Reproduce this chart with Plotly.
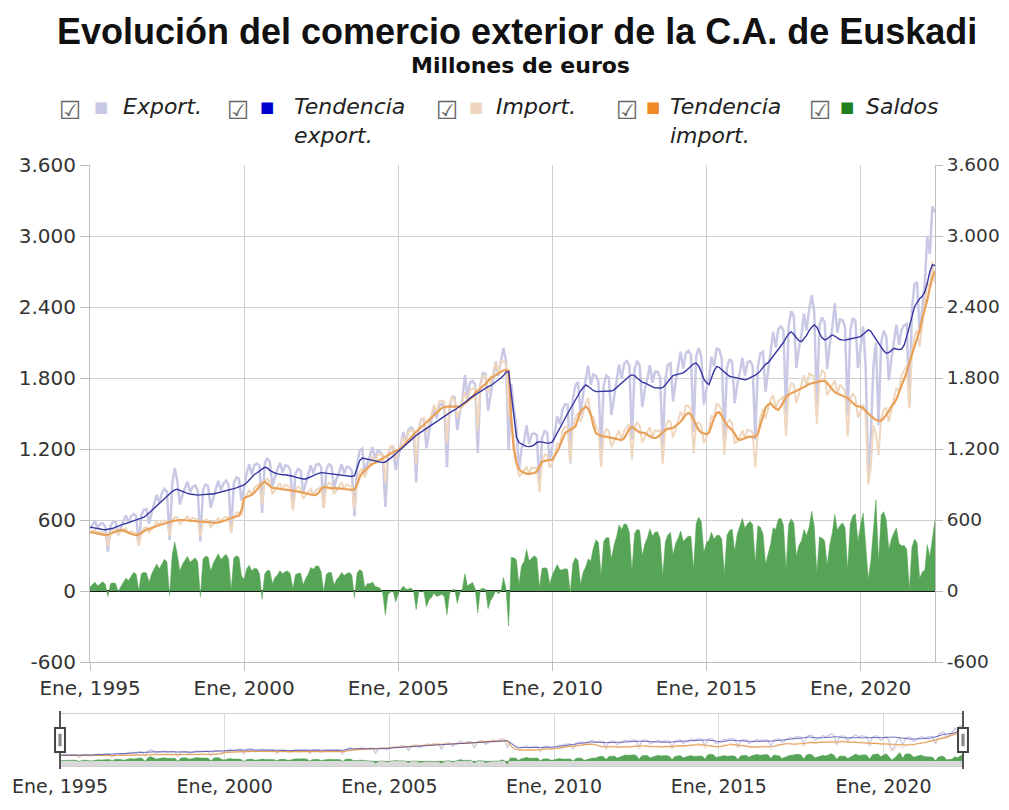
import pandas as pd
import plotly.graph_objects as go

# ---------------- DATA (millones de euros, mensual Ene 1995 - Jun 2022) ----------------
start_month = "1995-01-01"

export_raw = [
    524, 562, 594, 528, 567, 572, 544, 333, 551, 583, 583, 473,          # 1995
    541, 593, 638, 578, 632, 651, 630, 387, 643, 688, 691, 568,          # 1996
    664, 740, 812, 745, 826, 864, 840, 430, 900, 1040, 929, 731,         # 1997
    815, 874, 924, 836, 880, 893, 850, 417, 856, 900, 885, 705,          # 1998
    795, 866, 930, 852, 907, 933, 898, 500, 908, 960, 950, 765,          # 1999
    869, 1000, 1070, 984, 1064, 1077, 1060, 660, 1076, 1123, 1091, 884,  # 2000
    967, 1020, 1084, 1003, 1061, 1058, 1024, 700, 991, 1031, 1017, 833,  # 2001
    919, 984, 1062, 995, 1064, 1075, 1050, 700, 1025, 1071, 1059, 867,   # 2002
    951, 1007, 1073, 992, 1048, 1045, 1016, 630, 1061, 1188, 1203, 986,  # 2003
    1082, 1143, 1216, 1122, 1183, 1177, 1139, 710, 1138, 1215, 1220, 1021,   # 2004
    1145, 1236, 1342, 1265, 1361, 1382, 1365, 920, 1370, 1453, 1453, 1206,   # 2005
    1343, 1442, 1557, 1459, 1566, 1582, 1554, 1047, 1555, 1642, 1637, 1360,  # 2006
    1513, 1622, 1826, 1642, 1760, 1777, 1743, 1166, 1741, 1841, 1835, 1520,  # 2007
    1683, 1803, 1940, 1816, 1944, 2054, 1943, 1192, 1750, 1540, 1389, 1023,  # 2008
    1203, 1267, 1400, 1244, 1323, 1334, 1318, 870, 1296, 1352, 1338, 1100,   # 2009
    1222, 1339, 1474, 1408, 1534, 1577, 1575, 1078, 1622, 1739, 1766, 1487,  # 2010
    1668, 1793, 1903, 1744, 1831, 1820, 1769, 1180, 1736, 1820, 1803, 1487,  # 2011
    1649, 1772, 1915, 1795, 1922, 1944, 1906, 1278, 1875, 1944, 1905, 1553,  # 2012
    1705, 1797, 1909, 1760, 1855, 1853, 1801, 1204, 1792, 1912, 1926, 1602,  # 2013
    1771, 1887, 2022, 1880, 2009, 2030, 1995, 1344, 1985, 2052, 1980, 1575,  # 2014
    1707, 1797, 1980, 1897, 2048, 2041, 1964, 1295, 1885, 1960, 1937, 1588,  # 2015
    1746, 1849, 1969, 1821, 1933, 1944, 1901, 1278, 1895, 2009, 2022, 1685,  # 2016
    1872, 2019, 2189, 2060, 2214, 2236, 2205, 1498, 2240, 2365, 2322, 1883,  # 2017
    2052, 2170, 2343, 2203, 2376, 2500, 2360, 1561, 2245, 2311, 2271, 1874,  # 2018
    2086, 2229, 2430, 2183, 2295, 2292, 2226, 1488, 2194, 2306, 2286, 1883,  # 2019
    2086, 2235, 1900, 1000, 1300, 1900, 2100, 1400, 2100, 2200, 2150, 1780,  # 2020
    1969, 2113, 2250, 2081, 2209, 2246, 2258, 1561, 2390, 2592, 2611, 2174,  # 2021
    2415, 2606, 3000, 2850, 3250, 3200,                                      # 2022
]

export_trend = [
    540, 535, 530, 528, 525, 520, 518, 520, 525, 530, 540, 550,
    558, 565, 570, 578, 585, 592, 600, 605, 612, 625, 640, 660,
    685, 705, 725, 745, 765, 785, 800, 820, 840, 855, 860, 850,
    840, 832, 825, 820, 815, 812, 810, 812, 815, 818, 820, 820,
    820, 825, 830, 835, 840, 848, 855, 860, 865, 872, 880, 890,
    896, 915, 940, 965, 985, 997, 1010, 1030, 1045, 1040, 1020, 1005,
    997, 990, 985, 983, 982, 980, 975, 970, 962, 955, 950, 947,
    947, 955, 965, 975, 985, 995, 1000, 998, 995, 992, 990, 985,
    980, 978, 975, 973, 970, 968, 968, 975, 1030, 1100, 1124, 1120,
    1115, 1110, 1105, 1100, 1095, 1090, 1085, 1090, 1105, 1125, 1140, 1160,
    1180, 1200, 1220, 1240, 1260, 1280, 1300, 1315, 1330, 1345, 1358, 1370,
    1385, 1400, 1415, 1430, 1450, 1465, 1480, 1495, 1510, 1520, 1530, 1545,
    1560, 1575, 1590, 1610, 1630, 1645, 1660, 1675, 1690, 1705, 1715, 1727,
    1735, 1750, 1765, 1780, 1800, 1820, 1850, 1855, 1650, 1450, 1300, 1255,
    1240, 1230, 1222, 1220, 1225, 1235, 1255, 1262, 1258, 1252, 1250, 1251,
    1260, 1300, 1340, 1380, 1420, 1460, 1500, 1540, 1575, 1610, 1650, 1690,
    1720, 1741, 1730, 1710, 1695, 1685, 1685, 1685, 1685, 1685, 1685, 1690,
    1700, 1720, 1741, 1760, 1780, 1800, 1815, 1826, 1820, 1800, 1780, 1765,
    1758, 1745, 1735, 1725, 1718, 1716, 1715, 1720, 1740, 1770, 1800, 1820,
    1826, 1832, 1838, 1843, 1860, 1880, 1900, 1920, 1927, 1900, 1850, 1790,
    1760, 1745, 1800, 1860, 1896, 1890, 1870, 1850, 1830, 1815, 1810, 1805,
    1800, 1795, 1790, 1785, 1790, 1800, 1810, 1825, 1840, 1860, 1890, 1915,
    1930, 1960, 1990, 2020, 2050, 2070, 2100, 2140, 2175, 2190, 2170, 2140,
    2115, 2107, 2130, 2160, 2200, 2230, 2248, 2230, 2180, 2140, 2122, 2130,
    2150, 2164, 2155, 2140, 2125, 2122, 2120, 2125, 2130, 2135, 2136, 2140,
    2150, 2170, 2190, 2206, 2195, 2160, 2120, 2094, 2060, 2030, 2010, 2015,
    2030, 2051, 2045, 2040, 2045, 2080, 2150, 2230, 2320, 2400, 2440, 2470,
    2490, 2530, 2600, 2700, 2756, 2750,
]

import_raw = [
    490, 505, 519, 485, 504, 494, 487, 380, 487, 515, 520, 479,
    505, 520, 530, 490, 504, 494, 487, 382, 495, 530, 539, 494,
    519, 551, 583, 558, 593, 595, 594, 466, 596, 625, 622, 564,
    588, 610, 631, 592, 620, 612, 604, 466, 586, 606, 598, 539,
    561, 587, 615, 585, 620, 622, 626, 492, 628, 662, 664, 639,
    770, 811, 853, 812, 872, 889, 912, 728, 933, 950, 920, 820,
    853, 882, 912, 858, 899, 888, 878, 680, 853, 882, 868, 780,
    811, 838, 864, 811, 853, 863, 886, 704, 884, 914, 903, 818,
    853, 885, 917, 862, 901, 889, 880, 688, 909, 1008, 1037, 959,
    1019, 1081, 1140, 1082, 1150, 1154, 1159, 912, 1167, 1224, 1222, 1114,
    1168, 1229, 1299, 1250, 1344, 1356, 1365, 1076, 1379, 1454, 1461, 1340,
    1416, 1494, 1574, 1505, 1601, 1609, 1602, 1248, 1576, 1636, 1620, 1465,
    1527, 1601, 1680, 1600, 1701, 1706, 1723, 1352, 1727, 1817, 1820, 1669,
    1764, 1847, 1935, 1840, 1948, 1940, 1924, 1488, 1465, 1260, 1125, 968,
    990, 1017, 1049, 990, 1045, 1037, 1040, 840, 1104, 1155, 1149, 1041,
    1085, 1163, 1251, 1230, 1355, 1388, 1391, 1088, 1389, 1458, 1508, 1429,
    1509, 1589, 1632, 1490, 1470, 1386, 1360, 1048, 1318, 1369, 1352, 1217,
    1264, 1311, 1357, 1276, 1355, 1383, 1411, 1111, 1389, 1423, 1394, 1255,
    1308, 1346, 1383, 1295, 1358, 1352, 1360, 1076, 1375, 1439, 1430, 1297,
    1367, 1438, 1516, 1460, 1565, 1565, 1535, 1160, 1414, 1428, 1394, 1250,
    1299, 1367, 1484, 1460, 1580, 1570, 1524, 1152, 1414, 1449, 1414, 1250,
    1264, 1302, 1357, 1290, 1365, 1356, 1339, 1044, 1343, 1470, 1539, 1457,
    1544, 1618, 1654, 1540, 1607, 1622, 1648, 1312, 1677, 1755, 1747, 1589,
    1665, 1744, 1823, 1735, 1838, 1826, 1813, 1412, 1788, 1864, 1846, 1654,
    1695, 1734, 1781, 1670, 1743, 1716, 1691, 1304, 1626, 1670, 1633, 1466,
    1527, 1576, 1500, 900, 1050, 1400, 1330, 1150, 1460, 1530, 1550, 1430,
    1529, 1618, 1717, 1680, 1827, 1862, 1906, 1544, 2020, 2153, 2205, 2068,
    2254, 2428, 2608, 2560, 2783, 2600,
]

import_trend = [
    500, 495, 490, 485, 480, 475, 473, 475, 482, 490, 500, 510,
    515, 510, 500, 490, 480, 475, 473, 478, 490, 505, 518, 525,
    530, 540, 550, 558, 565, 572, 577, 583, 590, 595, 598, 600,
    600, 598, 595, 592, 590, 588, 586, 583, 580, 577, 575, 573,
    572, 575, 580, 585, 590, 598, 608, 615, 622, 630, 638, 680,
    786, 795, 805, 812, 830, 855, 885, 910, 924, 905, 885, 872,
    870, 865, 860, 858, 856, 854, 852, 850, 845, 840, 835, 830,
    828, 822, 815, 811, 812, 830, 860, 880, 875, 870, 868, 870,
    870, 868, 865, 862, 858, 855, 854, 860, 900, 960, 997, 1020,
    1040, 1060, 1075, 1082, 1095, 1110, 1125, 1140, 1155, 1166, 1175, 1185,
    1192, 1205, 1225, 1250, 1280, 1304, 1325, 1345, 1365, 1385, 1405, 1425,
    1445, 1465, 1485, 1505, 1525, 1547, 1555, 1560, 1560, 1558, 1558, 1558,
    1558, 1570, 1585, 1600, 1620, 1640, 1673, 1690, 1710, 1730, 1750, 1775,
    1800, 1811, 1825, 1840, 1855, 1865, 1868, 1860, 1450, 1200, 1082, 1030,
    1010, 997, 990, 990, 995, 997, 1010, 1050, 1093, 1100, 1105, 1107,
    1107, 1140, 1180, 1230, 1290, 1335, 1350, 1360, 1375, 1389, 1450, 1520,
    1540, 1558, 1540, 1490, 1400, 1333, 1320, 1310, 1305, 1304, 1300, 1295,
    1290, 1285, 1280, 1276, 1290, 1330, 1370, 1389, 1375, 1355, 1340, 1335,
    1335, 1320, 1305, 1295, 1293, 1300, 1320, 1345, 1361, 1370, 1375, 1380,
    1395, 1410, 1430, 1460, 1490, 1505, 1490, 1450, 1400, 1360, 1340, 1330,
    1325, 1340, 1400, 1460, 1505, 1510, 1480, 1440, 1400, 1380, 1360, 1330,
    1290, 1276, 1280, 1290, 1300, 1304, 1300, 1305, 1330, 1400, 1480, 1550,
    1575, 1586, 1560, 1540, 1530, 1560, 1600, 1640, 1660, 1671, 1680, 1690,
    1699, 1710, 1720, 1735, 1750, 1756, 1760, 1765, 1770, 1775, 1775, 1760,
    1730, 1700, 1680, 1670, 1660, 1650, 1642, 1630, 1610, 1590, 1570, 1560,
    1558, 1545, 1520, 1500, 1480, 1460, 1445, 1440, 1440, 1460, 1490, 1520,
    1560, 1586, 1620, 1680, 1740, 1790, 1850, 1930, 2000, 2050, 2120, 2200,
    2300, 2380, 2460, 2560, 2650, 2700,
]

tick_years = [1995, 2000, 2005, 2010, 2015, 2020]
tick_labels = ["Ene, 1995", "Ene, 2000", "Ene, 2005", "Ene, 2010", "Ene, 2015", "Ene, 2020"]
y_ticks = [-600, 0, 600, 1200, 1800, 2400, 3000, 3600]
y_tick_labels = ["-600", "0", "600", "1.200", "1.800", "2.400", "3.000", "3.600"]

legend_names = ["Export.", "Tendencia<br>export.", "Import.", "Tendencia<br>import.", "Saldos"]

# ---------------- derived ----------------
months = pd.date_range(start_month, periods=len(export_raw), freq="MS")
saldo = [e - i for e, i in zip(export_raw, import_raw)]
tick_dates = [f"{y}-01-01" for y in tick_years]

# ---------------- layout helpers ----------------
# The page body has an 8px margin, so the figure is made 16px smaller than the
# window and reference pixel positions are shifted by that margin.
PAGE_W, PAGE_H, BODY = 1009, 810, 8
W, H = PAGE_W - 2 * BODY, PAGE_H - 2 * BODY
def px(x):
    return (x - BODY) / W
def py(y):
    return 1 - (y - BODY) / H

C_EXP = "#C9C9E6"
C_EXP_T = "#34349F"
C_IMP = "#EFD6BE"
C_IMP_T = "#E9A15A"
C_SAL = "#56A456"
FONT = "DejaVu Sans"

fig = go.Figure()

def add_series(xa, ya, scale):
    fig.add_trace(go.Scatter(x=months, y=saldo, mode="lines", fill="tozeroy",
                             fillcolor=C_SAL, line=dict(color=C_SAL, width=0.5),
                             xaxis=xa, yaxis=ya, hoverinfo="skip"))
    fig.add_trace(go.Scatter(x=months, y=export_raw, mode="lines",
                             line=dict(color=C_EXP, width=2.5 * scale),
                             xaxis=xa, yaxis=ya))
    fig.add_trace(go.Scatter(x=months, y=import_raw, mode="lines",
                             line=dict(color=C_IMP, width=2.0 * scale),
                             xaxis=xa, yaxis=ya))
    fig.add_trace(go.Scatter(x=months, y=import_trend, mode="lines",
                             line=dict(color=C_IMP_T, width=2.2 * scale),
                             xaxis=xa, yaxis=ya))
    fig.add_trace(go.Scatter(x=months, y=export_trend, mode="lines",
                             line=dict(color=C_EXP_T, width=1.4 * scale),
                             xaxis=xa, yaxis=ya))

add_series("x", "y", 1.0)
# invisible trace to carry the right-hand axis
fig.add_trace(go.Scatter(x=months, y=export_trend, mode="lines",
                         line=dict(color="rgba(0,0,0,0)", width=0),
                         xaxis="x", yaxis="y2", hoverinfo="skip"))
add_series("x3", "y3", 0.5)

grid = "#CFCFCF"
axcol = "#BDBDBD"
tickfont = dict(family=FONT, size=20, color="#333333")
tickfont_r = dict(family=FONT, size=18.5, color="#333333")
tickfont_s = dict(family=FONT, size=19, color="#333333")

fig.update_layout(
    template="none",
    width=W, height=H,
    margin=dict(l=0, r=0, t=0, b=0, autoexpand=False),
    paper_bgcolor="white", plot_bgcolor="white",
    showlegend=False,
    separators=",.",
    xaxis=dict(domain=[px(90), px(935)], anchor="y", type="date", automargin=False,
               range=[months[0], months[-1]],
               tickmode="array", tickvals=tick_dates, ticktext=tick_labels,
               showgrid=True, gridcolor=grid, gridwidth=1,
               ticks="outside", ticklen=8, tickcolor=axcol,
               showline=True, linecolor=axcol, tickfont=tickfont, zeroline=False),
    yaxis=dict(domain=[py(662), py(165)], anchor="x", automargin=False,
               range=[-600, 3600], tickmode="array", tickvals=y_ticks,
               ticktext=y_tick_labels,
               showgrid=True, gridcolor=grid, gridwidth=1,
               zeroline=True, zerolinecolor="#1A1A1A", zerolinewidth=2,
               ticks="outside", ticklen=9, tickcolor=axcol,
               showline=True, linecolor=axcol, tickfont=tickfont),
    yaxis2=dict(overlaying="y", side="right", anchor="x", automargin=False,
                range=[-600, 3600], tickmode="array", tickvals=y_ticks,
                ticktext=y_tick_labels,
                showgrid=False, zeroline=False,
                ticks="outside", ticklen=7, tickcolor=axcol,
                showline=True, linecolor=axcol, tickfont=tickfont_r),
    xaxis3=dict(domain=[px(60), px(963)], anchor="y3", type="date", automargin=False,
                range=[months[0], months[-1]],
                tickmode="array", tickvals=tick_dates, ticktext=tick_labels,
                showgrid=True, gridcolor="#DADADA",
                ticks="outside", ticklen=3, tickcolor="rgba(0,0,0,0)",
                showline=True, linecolor="#CFCFCF", mirror=True,
                tickfont=tickfont_s, zeroline=False),
    yaxis3=dict(domain=[py(766), py(714)], anchor="x3", automargin=False,
                range=[-460, 4310], showticklabels=False, showgrid=False,
                zeroline=False, showline=True, linecolor="#CFCFCF", mirror=True),
)

# slider decorations: bottom band and handles
shapes = [
    dict(type="rect", xref="x3 domain", yref="y3 domain", x0=0, x1=1, y0=0, y1=0.1,
         fillcolor="#D9D9D9", line=dict(width=0), layer="below"),
]
for xd in (0, 1):
    shapes.append(dict(type="line", xref="x3 domain", yref="y3 domain",
                       x0=xd, x1=xd, y0=-0.06, y1=1.06,
                       line=dict(color="#555555", width=2)))
    shapes.append(dict(type="rect", xref="x3 domain", yref="y3 domain",
                       x0=xd - 0.0055, x1=xd + 0.0055, y0=0.27, y1=0.73,
                       fillcolor="white", line=dict(color="#444444", width=2)))
    shapes.append(dict(type="rect", xref="x3 domain", yref="y3 domain",
                       x0=xd - 0.0018, x1=xd + 0.0018, y0=0.38, y1=0.62,
                       fillcolor="#888888", line=dict(width=0)))
fig.update_layout(shapes=shapes)

# titles
ann = [
    dict(text="<b>Evolución del comercio exterior de la C.A. de Euskadi</b>",
         x=px(517), y=py(31), xref="paper", yref="paper", showarrow=False,
         xanchor="center", yanchor="middle", borderpad=0,
         font=dict(family="Liberation Sans", size=36, color="#111111")),
    dict(text="<b>Millones de euros</b>",
         x=px(520), y=py(65), xref="paper", yref="paper", showarrow=False,
         xanchor="center", yanchor="middle",
         font=dict(family=FONT, size=22, color="#111111")),
]

# custom legend (checkbox + colour square + italic label)
legend_colors = [C_EXP, "#0000CC", C_IMP, "#F08A24", "#1F7F1F"]
check_x = [70, 238, 447, 627, 820]
square_x = [101, 267, 476, 653, 847]
text_x = [121, 292, 494, 668, 864]
for name, col, cx, sx, tx in zip(legend_names, legend_colors, check_x, square_x, text_x):
    ann.append(dict(text="☑", x=px(cx), y=py(110), xref="paper", yref="paper",
                    showarrow=False, xanchor="center", yanchor="middle",
                    font=dict(family=FONT, size=25, color="#666666")))
    ann.append(dict(text="■", x=px(sx), y=py(107), xref="paper", yref="paper",
                    showarrow=False, xanchor="center", yanchor="middle",
                    font=dict(family=FONT, size=15, color=col)))
    ann.append(dict(text=f"<i>{name}</i>", x=px(tx), y=py(92), xref="paper", yref="paper",
                    showarrow=False, xanchor="left", yanchor="top", align="left",
                    font=dict(family=FONT, size=22, color="#222222")))
fig.update_layout(annotations=ann)

fig.write_html("out.html")
